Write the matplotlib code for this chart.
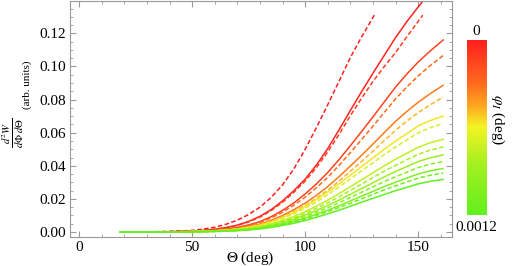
import numpy as np
import matplotlib
matplotlib.use("Agg")
import matplotlib.pyplot as plt
from matplotlib.colors import LinearSegmentedColormap
from matplotlib.ticker import MultipleLocator

plt.rcParams['font.family'] = ['Liberation Serif', 'DejaVu Serif']
plt.rcParams['mathtext.fontset'] = 'stix'

# Theta sample points (deg)
theta = [18, 30, 40, 50, 55, 60, 65, 70, 75, 80, 85, 90, 95, 100, 105, 110, 115, 120,
         125, 130, 135, 140, 145, 150, 155, 161]
theta_mid = [18, 30, 40, 50, 55, 60, 65, 70, 75, 80, 85, 90, 95, 100, 105, 110, 115, 120,
             125, 130, 135, 140, 145, 152]
theta_short = [18, 30, 40, 50, 55, 60, 65, 70, 75, 80, 85, 90, 95, 100, 105, 110, 115, 120,
               125, 131]

# red curves (phi_I = 0 end of the scale)
dashed_red = [0, 0.0001, 0.0004, 0.0010, 0.0018, 0.0029, 0.0047, 0.0072, 0.0106, 0.0150,
              0.0210, 0.0285, 0.0382, 0.0500, 0.0632, 0.0770, 0.0912, 0.1055, 0.1180, 0.1320]
solid_red = [0, 0.0001, 0.0002, 0.0006, 0.0010, 0.0017, 0.0027, 0.0042, 0.0064, 0.0095,
             0.0136, 0.0188, 0.0250, 0.0320, 0.0405, 0.0505, 0.0618, 0.0735, 0.0849, 0.0960,
             0.1068, 0.1175, 0.1272, 0.1360, 0.1445, 0.1545]
dashed_red2 = [0, 0.0001, 0.0002, 0.0006, 0.0010, 0.0016, 0.0026, 0.0040, 0.0061, 0.0090,
               0.0130, 0.0180, 0.0240, 0.0308, 0.0390, 0.0485, 0.0590, 0.0703, 0.0810, 0.0910,
               0.1000, 0.1085, 0.1180, 0.1310]

# remaining curves, top to bottom at the right end (all on `theta`)
curve_vals = {
    'D': [0, 0, 0.0001, 0.0005, 0.0008, 0.0012, 0.0019, 0.0028, 0.0043, 0.0063, 0.0093, 0.0131,
          0.0176, 0.0230, 0.0291, 0.0360, 0.0438, 0.0522, 0.0608, 0.0696, 0.0786, 0.0876,
          0.0955, 0.1027, 0.1090, 0.1160],
    'E': [0, 0, 0.0001, 0.0004, 0.0007, 0.0011, 0.0017, 0.0026, 0.0039, 0.0058, 0.0085, 0.0120,
          0.0162, 0.0211, 0.0268, 0.0330, 0.0403, 0.0480, 0.0559, 0.0640, 0.0723, 0.0805,
          0.0877, 0.0943, 0.1002, 0.1066],
    'F': [0, 0, 0.0001, 0.0004, 0.0006, 0.0009, 0.0014, 0.0021, 0.0033, 0.0048, 0.0071, 0.0100,
          0.0135, 0.0175, 0.0222, 0.0275, 0.0335, 0.0399, 0.0464, 0.0532, 0.0601, 0.0669,
          0.0729, 0.0784, 0.0833, 0.0886],
    'G': [0, 0, 0.0001, 0.0003, 0.0005, 0.0008, 0.0013, 0.0020, 0.0030, 0.0044, 0.0065, 0.0092,
          0.0124, 0.0161, 0.0205, 0.0253, 0.0308, 0.0367, 0.0427, 0.0489, 0.0553, 0.0615,
          0.0671, 0.0721, 0.0766, 0.0815],
    'H': [0, 0, 0.0001, 0.0003, 0.0005, 0.0008, 0.0012, 0.0018, 0.0028, 0.0042, 0.0062, 0.0088,
          0.0118, 0.0154, 0.0196, 0.0242, 0.0291, 0.0343, 0.0396, 0.0448, 0.0501, 0.0550,
          0.0595, 0.0641, 0.0672, 0.0700],
    'I': [0, 0, 0.0001, 0.0003, 0.0005, 0.0007, 0.0011, 0.0017, 0.0026, 0.0039, 0.0058, 0.0082,
          0.0110, 0.0144, 0.0183, 0.0226, 0.0272, 0.0321, 0.0370, 0.0419, 0.0468, 0.0514,
          0.0557, 0.0599, 0.0629, 0.0655],
    'J': [0, 0, 0.0001, 0.0002, 0.0004, 0.0006, 0.0010, 0.0015, 0.0022, 0.0034, 0.0049, 0.0070,
          0.0094, 0.0123, 0.0157, 0.0193, 0.0232, 0.0274, 0.0316, 0.0358, 0.0400, 0.0440,
          0.0476, 0.0512, 0.0538, 0.0560],
    'K': [0, 0, 0.0001, 0.0002, 0.0004, 0.0006, 0.0009, 0.0013, 0.0021, 0.0031, 0.0045, 0.0064,
          0.0086, 0.0113, 0.0144, 0.0177, 0.0213, 0.0252, 0.0290, 0.0329, 0.0368, 0.0403,
          0.0437, 0.0470, 0.0493, 0.0514],
    'L': [0, 0, 0.0001, 0.0002, 0.0003, 0.0005, 0.0008, 0.0012, 0.0019, 0.0028, 0.0041, 0.0058,
          0.0078, 0.0103, 0.0130, 0.0161, 0.0193, 0.0228, 0.0263, 0.0298, 0.0333, 0.0366,
          0.0396, 0.0426, 0.0447, 0.0466],
    'M': [0, 0, 0.0001, 0.0002, 0.0003, 0.0005, 0.0007, 0.0011, 0.0017, 0.0026, 0.0037, 0.0053,
          0.0072, 0.0094, 0.0119, 0.0147, 0.0177, 0.0209, 0.0241, 0.0273, 0.0305, 0.0334,
          0.0362, 0.0390, 0.0409, 0.0426],
    'N': [0, 0, 0.0001, 0.0002, 0.0003, 0.0004, 0.0007, 0.0010, 0.0015, 0.0023, 0.0034, 0.0048,
          0.0065, 0.0084, 0.0108, 0.0132, 0.0159, 0.0188, 0.0217, 0.0246, 0.0275, 0.0301,
          0.0326, 0.0351, 0.0369, 0.0384],
    'O': [0, 0, 0.0000, 0.0001, 0.0002, 0.0004, 0.0006, 0.0009, 0.0014, 0.0021, 0.0031, 0.0045,
          0.0060, 0.0078, 0.0100, 0.0123, 0.0148, 0.0174, 0.0201, 0.0228, 0.0255, 0.0279,
          0.0303, 0.0326, 0.0342, 0.0356],
    'P': [0, 0, 0.0000, 0.0001, 0.0002, 0.0003, 0.0005, 0.0008, 0.0013, 0.0019, 0.0028, 0.0040,
          0.0053, 0.0070, 0.0089, 0.0110, 0.0132, 0.0156, 0.0180, 0.0204, 0.0227, 0.0250,
          0.0270, 0.0291, 0.0305, 0.0318],
}
curve_style = {'D': '-', 'E': '--', 'F': '-', 'G': '--', 'H': '-', 'I': '--', 'J': '-',
               'K': '--', 'L': '-', 'M': '--', 'N': '-', 'O': '--', 'P': '-'}
# position on the colour scale, 0 = red (phi_I = 0) .. 1 = green (phi_I = 0.0012)
curve_cpos = {'D': 0.12, 'E': 0.24, 'F': 0.28, 'G': 0.40, 'H': 0.48, 'I': 0.58, 'J': 0.64,
              'K': 0.72, 'L': 0.76, 'M': 0.84, 'N': 0.88, 'O': 0.94, 'P': 1.0}

cmap = LinearSegmentedColormap.from_list('phi', [
    (0.00, '#ff1e1e'),
    (0.25, '#ff6a1e'),
    (0.38, '#ffa820'),
    (0.50, '#f4f424'),
    (0.70, '#a8f020'),
    (1.00, '#62f01e'),
])

fig = plt.figure(figsize=(5.15, 2.66), dpi=100)
ax = fig.add_axes([0.136, 0.109, 0.742, 0.887])

dash = (3.0, 1.6)
ax.plot(theta_short, dashed_red, color=cmap(0.0), lw=1.1, dashes=dash)
ax.plot(theta, solid_red, color=cmap(0.02), lw=1.1)
ax.plot(theta_mid, dashed_red2, color=cmap(0.1), lw=1.1, dashes=dash)
for k, v in curve_vals.items():
    if curve_style[k] == '-':
        ax.plot(theta, v, color=cmap(curve_cpos[k]), lw=1.1)
    else:
        ax.plot(theta, v, color=cmap(curve_cpos[k]), lw=1.1, dashes=dash)

ax.set_xlim(-4, 165)
ax.set_ylim(-0.003, 0.1395)
ax.xaxis.set_major_locator(MultipleLocator(50))
ax.xaxis.set_minor_locator(MultipleLocator(10))
ax.yaxis.set_major_locator(MultipleLocator(0.02))
ax.yaxis.set_minor_locator(MultipleLocator(0.005))
ax.yaxis.set_major_formatter('{x:.2f}')
ax.tick_params(which='both', direction='in', top=True, right=True, color='#999999',
               labelsize=11, pad=3)
ax.tick_params(which='major', length=4)
ax.tick_params(which='minor', length=2)
for s in ax.spines.values():
    s.set_color('#999999')

fig.text(0.485, 0.03, r'$\Theta$ (deg)', ha='center', va='center', fontsize=11)
fig.text(0.026, 0.50, r'$\frac{d^2W}{d\Phi\;d\Theta}$', rotation=90,
         ha='center', va='center', fontsize=11)
fig.text(0.052, 0.68, '(arb. units)', rotation=90, ha='center', va='center', fontsize=8)

# colour bar
cax = fig.add_axes([0.907, 0.192, 0.037, 0.658])
grad = np.linspace(0, 1, 256).reshape(-1, 1)
cax.imshow(grad, aspect='auto', cmap=cmap, origin='upper')
cax.set_axis_off()
fig.text(0.925, 0.88, '0', ha='center', va='center', fontsize=11)
fig.text(0.925, 0.143, '0.0012', ha='center', va='center', fontsize=11)
fig.text(0.967, 0.55, r'$\varphi_I$ (deg)', rotation=270, ha='center', va='center', fontsize=11)

fig.savefig('out.png', dpi=100)
